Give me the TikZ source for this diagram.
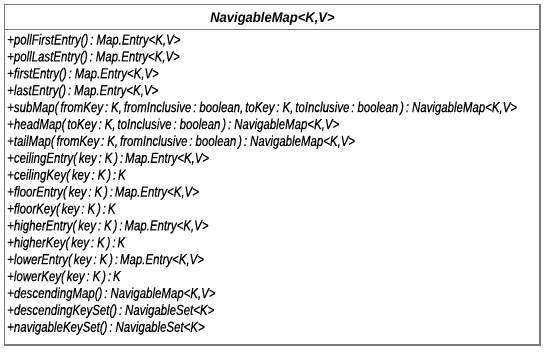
\documentclass[tikz,border=0pt]{standalone}
\usepackage{fontspec}
\setmainfont{Liberation Sans}[FakeStretch=0.79,WordSpace=0.6,FakeBold=0.15]
\newfontfamily\headfont{Liberation Sans}[FakeStretch=0.93]
\begin{document}
\begin{tikzpicture}[x=1pt,y=-1pt,
  frame/.style={draw=black!52,line width=1.5pt},
  member/.style={anchor=base west,inner sep=0pt,font=\itshape\fontsize{14.5}{16}\selectfont,text=black},
  title/.style={anchor=base,inner sep=0pt,font=\headfont\bfseries\itshape\fontsize{14}{16}\selectfont,text=black}]
\useasboundingbox (0,0) rectangle (546,351);
\fill[white] (0,0) rectangle (546,351);
% class box and header separator
\draw[frame] (4.5,4.5) rectangle (540,345);
\draw[frame] (4.5,29.3) -- (540,29.3);
\node[title] (cls) at (272.5,22) {NavigableMap<K,V>};
% operations
\foreach \t [count=\i] in {
  {+pollFirstEntry() : Map.Entry<K,V>},
  {+pollLastEntry() : Map.Entry<K,V>},
  {+firstEntry() : Map.Entry<K,V>},
  {+lastEntry() : Map.Entry<K,V>},
  {+subMap( fromKey : K, fromInclusive : boolean, toKey : K, toInclusive : boolean ) : NavigableMap<K,V>},
  {+headMap( toKey : K, toInclusive : boolean ) : NavigableMap<K,V>},
  {+tailMap( fromKey : K, fromInclusive : boolean ) : NavigableMap<K,V>},
  {+ceilingEntry( key : K ) : Map.Entry<K,V>},
  {+ceilingKey( key : K ) : K},
  {+floorEntry( key : K ) : Map.Entry<K,V>},
  {+floorKey( key : K ) : K},
  {+higherEntry( key : K ) : Map.Entry<K,V>},
  {+higherKey( key : K ) : K},
  {+lowerEntry( key : K ) : Map.Entry<K,V>},
  {+lowerKey( key : K ) : K},
  {+descendingMap() : NavigableMap<K,V>},
  {+descendingKeySet() : NavigableSet<K>},
  {+navigableKeySet() : NavigableSet<K>}}
  \node[member] (op\i) at (7,{27.6+16.9*\i}) {\t};
\end{tikzpicture}
\end{document}
